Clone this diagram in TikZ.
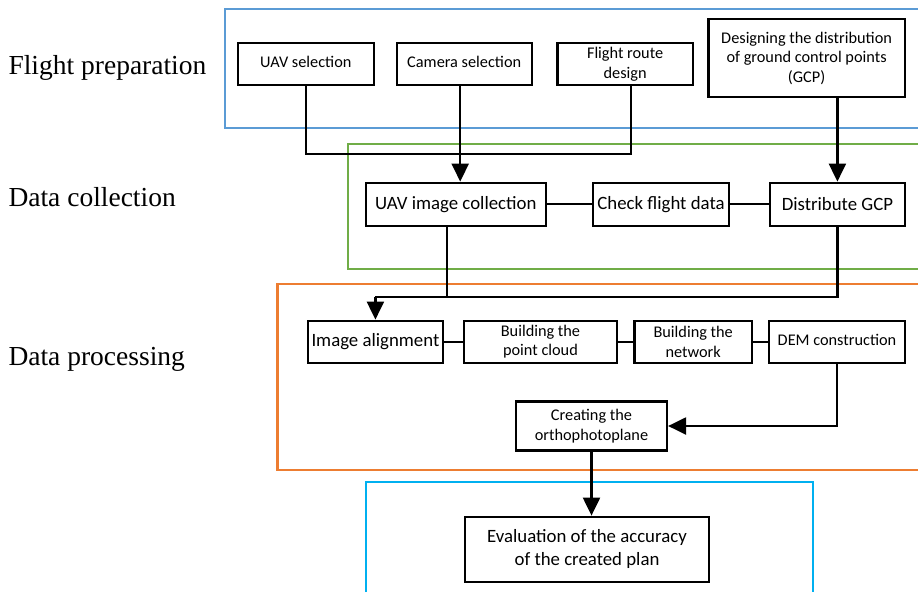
\documentclass[tikz,border=0pt]{standalone}
\usepackage{fontspec}
\setmainfont{Liberation Serif}
\newfontfamily\boxfont{Carlito}
\usetikzlibrary{arrows.meta}
\definecolor{fblue}{HTML}{5B9BD5}
\definecolor{fgreen}{HTML}{70AD47}
\definecolor{forange}{HTML}{ED7D31}
\definecolor{fcyan}{HTML}{00B0F0}
\begin{document}
\begin{tikzpicture}[x=1pt,y=-1pt,
  box/.style={draw=black, line width=2.2pt, inner sep=0pt, align=center, fill=white},
  small/.style={font=\boxfont\fontsize{16.3}{19.5}\selectfont},
  large/.style={font=\boxfont\fontsize{18.8}{22.5}\selectfont},
  conn/.style={line width=2.2pt},
  arr/.style={line width=2.2pt, -{Triangle[length=18pt,width=17pt]}},
  frame/.style={line width=2.2pt},
  lbl/.style={anchor=base west, font=\fontsize{27.5}{32}\selectfont}
]
\useasboundingbox (0,0) rectangle (918,592);
% frames
\draw[frame, fblue] (918,9) -- (225,9) -- (225,128) -- (918,128);
\draw[frame, fgreen] (918,144) -- (347.8,144) -- (347.8,269.3) -- (918,269.3);
\draw[frame, forange] (918,284) -- (277.4,284) -- (277.4,470) -- (918,470);
\draw[frame, fcyan] (366,592) -- (366,482) -- (812.6,482) -- (812.6,592);
% labels
\node[lbl] (l1) at (5,74.3) {Flight preparation};
\node[lbl] (l2) at (5,206.7) {Data collection};
\node[lbl] (l3) at (5,365) {Data processing};
% boxes
\node[box, small, minimum width=135.6pt, minimum height=42.6pt] (uavsel) at (305.8,64) {\raisebox{4pt}{UAV selection}};
\node[box, small, minimum width=135pt, minimum height=42.6pt] (camsel) at (464.2,64) {\raisebox{4pt}{Camera selection}};
\node[box, small, minimum width=135.3pt, minimum height=42.6pt] (flight) at (625.1,64) {Flight route\\design};
\node[box, small, minimum width=196.4pt, minimum height=78.3pt] (gcpd) at (806.6,58.2) {Designing the distribution\\of ground control points\\(GCP)};
\node[box, large, minimum width=180.4pt, minimum height=43pt] (uavimg) at (455.8,204.2) {UAV image collection};
\node[box, large, minimum width=136pt, minimum height=43pt] (check) at (661,204.2) {Check flight data};
\node[box, large, minimum width=134.8pt, minimum height=43pt] (dist) at (837.4,204.2) {Distribute GCP};
\node[box, large, minimum width=134.7pt, minimum height=42pt] (align) at (375.4,341.7) {\raisebox{2pt}{Image alignment}};
\node[box, small, minimum width=153pt, minimum height=42pt] (cloud) at (540.5,341.7) {Building the\\point cloud};
\node[box, small, minimum width=117.5pt, minimum height=42pt] (network) at (693.2,341.7) {Building the\\network};
\node[box, small, minimum width=136pt, minimum height=42pt] (dem) at (837,341.7) {\raisebox{4pt}{DEM construction}};
\node[box, small, minimum width=151pt, minimum height=49pt] (ortho) at (591.5,426) {Creating the\\orthophotoplane};
\node[box, large, minimum width=244pt, minimum height=65pt] (eval) at (587,549.2) {Evaluation of the accuracy\\of the created plan};
% connectors
\coordinate (j1) at (305.8,154);
\draw[conn] (uavsel.south) -- (j1) -| ([xshift=6pt]flight.south);
\draw[arr] ([xshift=-4pt]camsel.south) -- ([xshift=-4pt]camsel.south |- uavimg.north);
\draw[arr] (dist.north |- gcpd.south) -- (dist.north);
\draw[conn] (uavimg.east) -- (check.west);
\draw[conn] (check.east) -- (dist.west);
\coordinate (j2) at (375.4,297);
\draw[conn] (dist.south) |- (j2);
\draw[conn] ([xshift=-9pt]uavimg.south) -- ([xshift=-9pt]uavimg.south |- j2);
\draw[arr] (j2) -- (align.north);
\draw[conn] (align.east) -- (cloud.west);
\draw[conn] (cloud.east) -- (network.west);
\draw[conn] (network.east) -- (dem.west);
\draw[arr] (dem.south) |- (ortho.east);
\draw[arr] (ortho.south) -- (ortho.south |- eval.north);
\end{tikzpicture}
\end{document}
